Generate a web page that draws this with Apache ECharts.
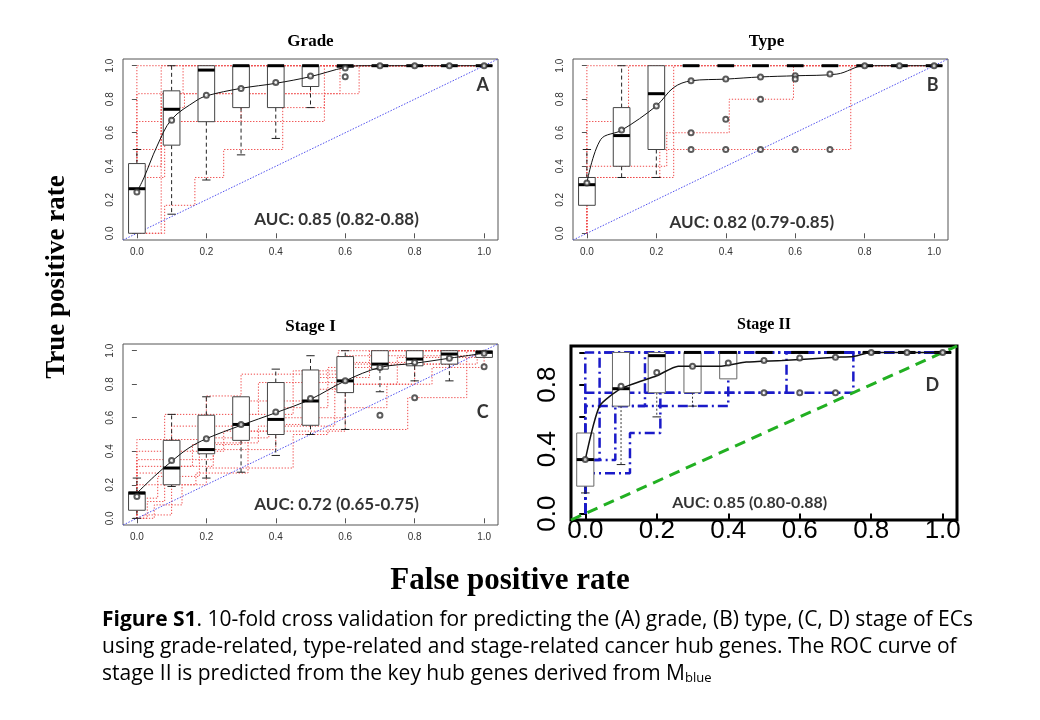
<!DOCTYPE html>
<html>
<head>
<meta charset="utf-8">
<script src="https://cdn.jsdelivr.net/npm/echarts@6/dist/echarts.min.js"></script>
<style>
html, body { margin: 0; padding: 0; background: #fff; }
#main { width: 1040px; height: 720px; }
</style>
</head>
<body>
<div id="main"></div>
<script>
// tick positions shared by every panel (false / true positive rate)
var rateTicks = [0, 0.2, 0.4, 0.6, 0.8, 1.0];
// panel D only prints every other label on its y axis
var sparseTicks = [0, 0.4, 0.8];

// boxes: [fpr, lowerWhisker, q1, median, q3, upperWhisker]
var gradeBoxes = [
    [0, 0, 0, 0.266, 0.416, 0.5],
    [0.1, 0.114, 0.526, 0.74, 0.85, 1.0],
    [0.2, 0.318, 0.666, 0.974, 1.0, 1.0],
    [0.3, 0.468, 0.75, 1.0, 1.0, 1.0],
    [0.4, 0.566, 0.75, 1.0, 1.0, 1.0],
    [0.5, 0.75, 0.876, 1.0, 1.0, 1.0],
    [0.6, 0.99, 0.99, 1.0, 1.0, 1.0],
    [0.7, 1, 1, 1, 1, 1],
    [0.8, 1, 1, 1, 1, 1],
    [0.9, 1, 1, 1, 1, 1],
    [1.0, 1, 1, 1, 1, 1]
];
var gradeMeans = [[0, 0.246], [0.1, 0.674], [0.2, 0.824], [0.3, 0.864], [0.4, 0.9], [0.5, 0.938],
    [0.6, 0.986], [0.7, 1], [0.8, 1], [0.9, 1], [1.0, 1]];
var gradeCurve = [[0, 0.246], [0.02, 0.33], [0.058, 0.52], [0.1, 0.68], [0.17, 0.79], [0.2, 0.82],
    [0.3, 0.865], [0.4, 0.895], [0.5, 0.935], [0.6, 0.99], [0.65, 1], [1.0, 1]];
var gradeOutliers = [[0.6, 0.934]];
var gradeFolds = [
    [[0, 0], [0, 1], [1, 1]],
    [[0, 0], [0, 0.833], [0.133, 0.833], [0.133, 1], [1, 1]],
    [[0, 0], [0, 0.667], [0.54, 0.667], [0.54, 0.833], [0.585, 0.833], [0.585, 1], [1, 1]],
    [[0, 0], [0, 0.4], [0.07, 0.4], [0.07, 1], [1, 1]],
    [[0, 0], [0.08, 0], [0.08, 0.167], [0.167, 0.167], [0.167, 0.333], [0.25, 0.333], [0.25, 0.5],
        [0.42, 0.5], [0.42, 0.75], [0.54, 0.75], [0.54, 1], [1, 1]],
    [[0, 0], [0.07, 0], [0.07, 0.75], [0.137, 0.75], [0.137, 0.833], [0.5, 0.833], [0.5, 1], [1, 1]],
    [[0, 0], [0, 0.333], [0.08, 0.333], [0.08, 0.667], [0.3, 0.667], [0.3, 1], [1, 1]],
    [[0, 0], [0, 0.5], [0.07, 0.5], [0.07, 0.833], [0.64, 0.833], [0.64, 1], [1, 1]]
];

var typeBoxes = [
    [0, 0.167, 0.167, 0.29, 0.333, 0.5],
    [0.1, 0.333, 0.4, 0.583, 0.75, 1.0],
    [0.2, 0.333, 0.5, 0.833, 1.0, 1.0],
    [0.3, 1, 1, 1, 1, 1],
    [0.4, 1, 1, 1, 1, 1],
    [0.5, 1, 1, 1, 1, 1],
    [0.6, 1, 1, 1, 1, 1],
    [0.7, 1, 1, 1, 1, 1],
    [0.8, 1, 1, 1, 1, 1],
    [0.9, 1, 1, 1, 1, 1],
    [1.0, 1, 1, 1, 1, 1]
];
var typeMeans = [[0, 0.3], [0.1, 0.616], [0.2, 0.76], [0.3, 0.91], [0.4, 0.92], [0.5, 0.933],
    [0.6, 0.94], [0.7, 0.95], [0.8, 1], [0.9, 1], [1.0, 1]];
var typeCurve = [[0, 0.3], [0.04, 0.56], [0.1, 0.615], [0.2, 0.76], [0.25, 0.87], [0.3, 0.91],
    [0.4, 0.92], [0.5, 0.933], [0.6, 0.94], [0.72, 0.95], [0.8, 1], [1.0, 1]];
var typeOutliers = [[0.3, 0.6], [0.3, 0.5], [0.4, 0.68], [0.4, 0.5], [0.5, 0.8], [0.5, 0.5],
    [0.6, 0.92], [0.6, 0.5], [0.7, 0.5]];
var typeFolds = [
    [[0, 0], [0, 1], [1, 1]],
    [[0, 0], [0, 0.667], [0.12, 0.667], [0.12, 1], [1, 1]],
    [[0, 0], [0, 0.4], [0.23, 0.4], [0.23, 0.6], [0.41, 0.6], [0.41, 0.8], [0.595, 0.8], [0.595, 1], [1, 1]],
    [[0, 0], [0, 0.333], [0.25, 0.333], [0.25, 1], [1, 1]],
    [[0, 0], [0, 0.333], [0.21, 0.333], [0.21, 0.5], [0.76, 0.5], [0.76, 1], [1, 1]]
];

var stage1Boxes = [
    [0, 0, 0.048, 0.15, 0.158, 0.24],
    [0.1, 0.19, 0.2, 0.3, 0.465, 0.62],
    [0.2, 0.24, 0.385, 0.41, 0.615, 0.725],
    [0.3, 0.275, 0.465, 0.56, 0.725, 0.725],
    [0.4, 0.375, 0.5, 0.59, 0.81, 0.89],
    [0.5, 0.5, 0.555, 0.7, 0.885, 0.97],
    [0.6, 0.53, 0.75, 0.82, 0.965, 1.0],
    [0.7, 0.755, 0.89, 0.92, 1.0, 1.0],
    [0.8, 0.82, 0.91, 0.95, 1.0, 1.0],
    [0.9, 0.82, 0.92, 0.98, 1.0, 1.0],
    [1.0, 0.96, 0.96, 0.99, 1.0, 1.0]
];
var stage1Means = [[0, 0.13], [0.1, 0.345], [0.2, 0.475], [0.3, 0.56], [0.4, 0.635], [0.5, 0.715],
    [0.6, 0.82], [0.7, 0.9], [0.8, 0.93], [0.9, 0.955], [1.0, 0.985]];
var stage1Curve = [[0, 0.15], [0.05, 0.25], [0.1, 0.34], [0.15, 0.42], [0.2, 0.475], [0.3, 0.555],
    [0.4, 0.63], [0.5, 0.71], [0.6, 0.82], [0.7, 0.9], [0.8, 0.925], [0.9, 0.955], [1.0, 0.985]];
var stage1Outliers = [[0.7, 0.615], [0.8, 0.72], [1.0, 0.905]];
var stage1Folds = [
    [[0, 0], [0, 0.47], [0.2, 0.47], [0.2, 0.73], [0.3, 0.73], [0.3, 0.86], [0.58, 0.86], [0.58, 1], [1, 1]],
    [[0, 0], [0, 0.4], [0.08, 0.4], [0.08, 0.62], [0.35, 0.62], [0.35, 0.81], [0.62, 0.81], [0.62, 0.93],
        [0.82, 0.93], [0.82, 1], [1, 1]],
    [[0, 0], [0, 0.31], [0.16, 0.31], [0.16, 0.44], [0.3, 0.44], [0.3, 0.62], [0.45, 0.62], [0.45, 0.88],
        [0.6, 0.88], [0.6, 0.97], [1, 0.97], [1, 1]],
    [[0, 0], [0, 0.27], [0.12, 0.27], [0.12, 0.4], [0.25, 0.4], [0.25, 0.52], [0.42, 0.52], [0.42, 0.66],
        [0.55, 0.66], [0.55, 0.9], [0.7, 0.9], [0.7, 1], [1, 1]],
    [[0, 0], [0, 0.2], [0.08, 0.2], [0.08, 0.35], [0.22, 0.35], [0.22, 0.48], [0.38, 0.48], [0.38, 0.56],
        [0.5, 0.56], [0.5, 0.77], [0.6, 0.77], [0.6, 0.92], [0.9, 0.92], [0.9, 1], [1, 1]],
    [[0, 0], [0.03, 0], [0.03, 0.1], [0.08, 0.1], [0.08, 0.31], [0.22, 0.31], [0.22, 0.45], [0.35, 0.45],
        [0.35, 0.55], [0.57, 0.55], [0.57, 0.8], [0.75, 0.8], [0.75, 0.96], [1, 0.96], [1, 1]],
    [[0, 0], [0.05, 0], [0.05, 0.08], [0.13, 0.08], [0.13, 0.2], [0.17, 0.2], [0.17, 0.27], [0.32, 0.27],
        [0.32, 0.52], [0.6, 0.52], [0.6, 0.66], [0.72, 0.66], [0.72, 0.8], [0.85, 0.8], [0.85, 0.9], [1, 0.9], [1, 1]],
    [[0, 0], [0.02, 0], [0.02, 0.02], [0.1, 0.02], [0.1, 0.2], [0.2, 0.2], [0.2, 0.3], [0.45, 0.3],
        [0.45, 0.5], [0.55, 0.5], [0.55, 0.53], [0.78, 0.53], [0.78, 0.72], [0.95, 0.72], [0.95, 1], [1, 1]],
    [[0, 0], [0, 0.35], [0.1, 0.35], [0.1, 0.55], [0.28, 0.55], [0.28, 0.7], [0.48, 0.7], [0.48, 0.84],
        [0.67, 0.84], [0.67, 1], [1, 1]],
    [[0, 0], [0, 0.12], [0.06, 0.12], [0.06, 0.25], [0.18, 0.25], [0.18, 0.41], [0.4, 0.41], [0.4, 0.6],
        [0.6, 0.6], [0.6, 0.8], [0.8, 0.8], [0.8, 0.92], [0.98, 0.92], [0.98, 1], [1, 1]]
];

var stage2Boxes = [
    [0, 0.128, 0.17, 0.335, 0.5, 0.5],
    [0.1, 0.304, 0.667, 0.775, 1.0, 1.0],
    [0.2, 0.6, 0.75, 0.98, 1.0, 1.0],
    [0.3, 0.667, 0.75, 1.0, 1.0, 1.0],
    [0.4, 0.836, 0.836, 1.0, 1.0, 1.0],
    [0.5, 1, 1, 1, 1, 1],
    [0.6, 1, 1, 1, 1, 1],
    [0.7, 1, 1, 1, 1, 1],
    [0.8, 1, 1, 1, 1, 1],
    [0.9, 1, 1, 1, 1, 1],
    [1.0, 1, 1, 1, 1, 1]
];
var stage2Means = [[0, 0.335], [0.1, 0.79], [0.2, 0.875], [0.3, 0.915], [0.4, 0.935], [0.5, 0.95],
    [0.6, 0.965], [0.7, 0.97], [0.8, 1], [0.9, 1], [1.0, 1]];
var stage2Curve = [[0, 0.335], [0.04, 0.667], [0.1, 0.775], [0.2, 0.855], [0.26, 0.915], [0.38, 0.915],
    [0.45, 0.94], [0.55, 0.95], [0.7, 0.97], [0.75, 0.975], [0.8, 1], [1.0, 1]];
var stage2Outliers = [[0.5, 0.75], [0.6, 0.75], [0.7, 0.75]];
var stage2Folds = [
    [[0, 0], [0, 1], [1, 1]],
    [[0, 0], [0, 0.75], [0.75, 0.75], [0.75, 1], [1, 1]],
    [[0, 0], [0, 0.25], [0.125, 0.25], [0.125, 0.5], [0.21, 0.5], [0.21, 0.75], [0.563, 0.75], [0.563, 1], [1, 1]],
    [[0, 0], [0, 0.667], [0.4, 0.667], [0.4, 1], [1, 1]],
    [[0, 0], [0, 0.333], [0.04, 0.333], [0.04, 1], [1, 1]],
    [[0, 0], [0, 0.333], [0.084, 0.333], [0.084, 0.667], [0.167, 0.667], [0.167, 1], [1, 1]]
];

var panelTitles = ['Grade', 'Type', 'Stage I', 'Stage II'];
var panelLetters = ['A', 'B', 'C', 'D'];
var aucTexts = ['AUC: 0.85 (0.82-0.88)', 'AUC: 0.82 (0.79-0.85)', 'AUC: 0.72 (0.65-0.75)', 'AUC: 0.85 (0.80-0.88)'];

////////////////////////////////////
var redFold = { color: '#ef4a4a', width: 1, type: [1.3, 1.7] };
var blueFold = { color: '#1a1ac8', width: 2.5, type: [10, 4, 2, 4] };

var panels = [
    { boxes: gradeBoxes, means: gradeMeans, curve: gradeCurve, outliers: gradeOutliers, folds: gradeFolds,
        grid: [123, 59, 375, 181], big: false, auc: [0.575, 0.083], letter: [0.996, 0.886] },
    { boxes: typeBoxes, means: typeMeans, curve: typeCurve, outliers: typeOutliers, folds: typeFolds,
        grid: [573, 59, 375, 181], big: false, auc: [0.475, 0.062], letter: [0.996, 0.886] },
    { boxes: stage1Boxes, means: stage1Means, curve: stage1Curve, outliers: stage1Outliers, folds: stage1Folds,
        grid: [123, 344, 375, 181], big: false, auc: [0.575, 0.082], letter: [0.996, 0.636] },
    { boxes: stage2Boxes, means: stage2Means, curve: stage2Curve, outliers: stage2Outliers, folds: stage2Folds,
        grid: [571, 346, 386, 174], big: true, auc: [0.46, 0.066], letter: [0.971, 0.795] }
];

function fmt(v) {
    return v.toFixed(1);
}

function boxRender(big) {
    return function (params, api) {
        var x = api.value(0), lo = api.value(1), q1 = api.value(2);
        var med = api.value(3), q3 = api.value(4), hi = api.value(5);
        var hw = 0.024, cw = 0.012;
        var tl = api.coord([x - hw, q3]);
        var br = api.coord([x + hw, q1]);
        var mL = api.coord([x - hw, med]);
        var mR = api.coord([x + hw, med]);
        var wisk = big ? { stroke: '#333', lineWidth: 1, lineDash: [2, 2] } : { stroke: '#222', lineWidth: 1, lineDash: [4, 3] };
        var kids = [];
        if (hi > q3) {
            var a = api.coord([x, q3]), b = api.coord([x, hi]);
            kids.push({ type: 'line', shape: { x1: a[0], y1: a[1], x2: b[0], y2: b[1] }, style: wisk });
            var c1 = api.coord([x - cw, hi]), c2 = api.coord([x + cw, hi]);
            kids.push({ type: 'line', shape: { x1: c1[0], y1: c1[1], x2: c2[0], y2: c2[1] }, style: { stroke: '#222', lineWidth: 1 } });
        }
        if (lo < q1) {
            var d = api.coord([x, q1]), e = api.coord([x, lo]);
            kids.push({ type: 'line', shape: { x1: d[0], y1: d[1], x2: e[0], y2: e[1] }, style: wisk });
            var c3 = api.coord([x - cw, lo]), c4 = api.coord([x + cw, lo]);
            kids.push({ type: 'line', shape: { x1: c3[0], y1: c3[1], x2: c4[0], y2: c4[1] }, style: { stroke: '#222', lineWidth: 1 } });
        }
        kids.push({
            type: 'rect',
            shape: { x: tl[0], y: tl[1], width: br[0] - tl[0], height: br[1] - tl[1] },
            style: { fill: '#fff', stroke: big ? '#666' : '#444', lineWidth: 1 }
        });
        kids.push({ type: 'line', shape: { x1: mL[0], y1: mL[1], x2: mR[0], y2: mR[1] }, style: { stroke: '#000', lineWidth: 3 } });
        return { type: 'group', children: kids };
    };
}

var grids = [], xAxes = [], yAxes = [], series = [];

panels.forEach(function (p, i) {
    var big = p.big;
    grids.push({
        left: p.grid[0], top: p.grid[1], width: p.grid[2], height: p.grid[3],
        show: true, borderColor: big ? '#000' : '#555', borderWidth: big ? 3 : 1, backgroundColor: 'transparent'
    });
    var tickStyle = { color: big ? '#000' : '#555', width: big ? 2 : 1 };
    var labFont = { fontFamily: 'Liberation Sans', fontSize: big ? 26 : 10, color: big ? '#000' : '#333' };
    xAxes.push({
        type: 'value', gridIndex: i, min: -0.04, max: 1.04,
        splitLine: { show: false }, axisLine: { show: false },
        axisTick: { show: true, customValues: rateTicks, length: big ? 6 : 5, lineStyle: tickStyle },
        axisLabel: echarts.util.extend({ customValues: rateTicks, formatter: fmt, margin: big ? -2 : 7 }, labFont)
    });
    yAxes.push({
        type: 'value', gridIndex: i, min: -0.04, max: 1.04,
        splitLine: { show: false }, axisLine: { show: false },
        axisTick: { show: true, customValues: rateTicks, length: big ? 6 : 5, lineStyle: tickStyle },
        axisLabel: echarts.util.extend({ customValues: big ? sparseTicks : rateTicks, formatter: fmt,
            rotate: 90, margin: big ? 10 : 8 }, labFont)
    });

    p.folds.forEach(function (f) {
        series.push({
            type: 'line', xAxisIndex: i, yAxisIndex: i, data: f, symbol: 'none', silent: true, z: 2,
            lineStyle: big ? blueFold : redFold
        });
    });
    series.push({
        type: 'line', xAxisIndex: i, yAxisIndex: i, data: [[-0.04, -0.04], [1.04, 1.04]], symbol: 'none', z: 3,
        lineStyle: big ? { color: '#22b022', width: 3, type: [11, 7] } : { color: '#5050ee', width: 1, type: [1.5, 1.5] }
    });
    series.push({
        type: 'custom', xAxisIndex: i, yAxisIndex: i, data: p.boxes, z: 4,
        encode: { x: 0, y: [1, 2, 3, 4, 5] },
        renderItem: boxRender(big)
    });
    series.push({
        type: 'line', xAxisIndex: i, yAxisIndex: i, data: p.curve, symbol: 'none', smooth: big ? 0.2 : 0.35, z: 5,
        lineStyle: { color: '#111', width: big ? 1.5 : 1 }
    });
    series.push({
        type: 'scatter', xAxisIndex: i, yAxisIndex: i, data: p.means.concat(p.outliers), z: 6,
        symbol: 'emptyCircle', symbolSize: 5, itemStyle: { color: '#333', borderWidth: 1 }
    });
    series.push({
        type: 'scatter', xAxisIndex: i, yAxisIndex: i, z: 7, symbolSize: 1, itemStyle: { color: 'transparent' },
        data: [
            { value: p.auc, name: aucTexts[i], label: { fontSize: big ? 16 : 17 } },
            { value: p.letter, name: panelLetters[i], label: { fontSize: 18 } }
        ],
        label: {
            show: true, position: 'inside', formatter: '{b}', color: '#000',
            fontFamily: 'Lato', fontWeight: 'bold', fontSize: 17
        }
    });
});

var titleGraphics = panels.map(function (p, i) {
    return {
        type: 'text', x: p.grid[0] + p.grid[2] / 2 + (i === 1 ? 6 : 0), y: p.grid[1] - (i === 3 ? 21 : 17),
        style: {
            text: panelTitles[i], align: 'center', verticalAlign: 'middle', textAlign: 'center', textVerticalAlign: 'middle',
            font: 'bold ' + (i === 3 ? 16 : 17) + 'px "Liberation Serif"', fill: '#000'
        }
    };
});

var capFont = '21px "Open Sans"';
var capRich = {
    b: { fontFamily: 'Open Sans', fontSize: 21, fontWeight: 'bold', fill: '#000' },
    s: { fontFamily: 'Open Sans', fontSize: 13, fill: '#000', verticalAlign: 'bottom', lineHeight: 13 }
};

var chart = echarts.init(document.getElementById('main'));
chart.setOption({
    animation: false,
    backgroundColor: '#fff',
    grid: grids,
    xAxis: xAxes,
    yAxis: yAxes,
    series: series,
    graphic: titleGraphics.concat([
        {
            type: 'text', x: 57, y: 277, rotation: Math.PI / 2,
            style: { text: 'True positive rate', align: 'center', verticalAlign: 'middle', textAlign: 'center', textVerticalAlign: 'middle',
                font: 'bold 27px "Liberation Serif"', fill: '#000' }
        },
        {
            type: 'text', x: 510, y: 581,
            style: { text: 'False positive rate', align: 'center', verticalAlign: 'middle', textAlign: 'center', textVerticalAlign: 'middle',
                font: 'bold 31px "Liberation Serif"', fill: '#000' }
        },
        {
            type: 'text', x: 102, y: 620,
            style: { text: '{b|Figure S1}. 10-fold cross validation for predicting the (A) grade, (B) type, (C, D) stage of ECs',
                rich: capRich, verticalAlign: 'middle', textVerticalAlign: 'middle', font: capFont, fill: '#000' }
        },
        {
            type: 'text', x: 102, y: 647,
            style: { text: 'using grade-related, type-related and stage-related cancer hub genes. The ROC curve of',
                verticalAlign: 'middle', textVerticalAlign: 'middle', font: capFont, fill: '#000' }
        },
        {
            type: 'text', x: 102, y: 674,
            style: { text: 'stage II is predicted from the key hub genes derived from M{s|blue}',
                rich: capRich, verticalAlign: 'middle', textVerticalAlign: 'middle', font: capFont, fill: '#000' }
        }
    ])
});
</script>
</body>
</html>
